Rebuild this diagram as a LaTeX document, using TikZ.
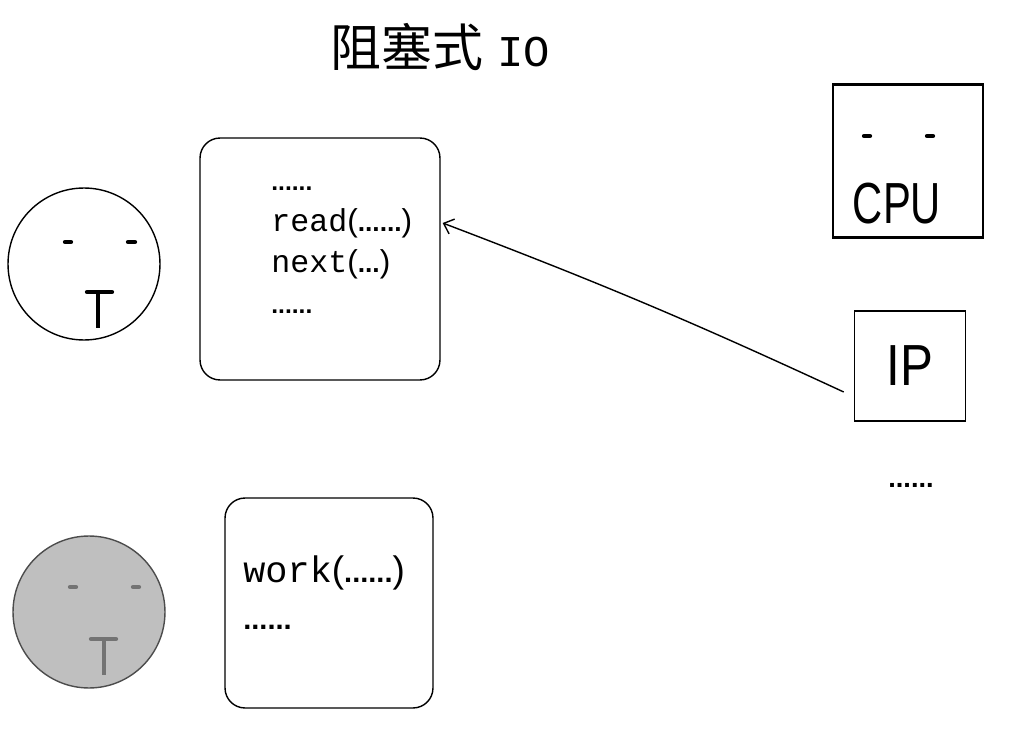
\documentclass[tikz,border=0pt]{standalone}
\usepackage{fontspec}
\setmainfont{Liberation Sans}
\setmonofont{Liberation Mono}
\newfontfamily\cjk{Noto Sans CJK SC}
\usetikzlibrary{arrows.meta}
\newcommand{\dotrow}[2][14]{{\fontsize{#1}{#1}\selectfont\bfseries #2}}
\begin{document}
\begin{tikzpicture}[x=0.02cm,y=-0.02cm,
    face/.style={circle,draw,line width=0.8pt,minimum size=3.04cm},
    codebox/.style={draw,rounded corners=0.4cm,line width=0.8pt},
    chip/.style={draw,font=\fontsize{33}{33}\selectfont},
    feature/.style={line width=2.4pt,line cap=round}]
  \useasboundingbox (0,0) rectangle (1018,750);
  \node (title) at (440,47) {{\cjk\fontsize{29}{29}\selectfont 阻塞式}\hspace{8pt}{\ttfamily\fontsize{25}{25}\selectfont IO}};

  \node[face] (t1) at (84,264) {};
  \draw[feature] (65,242) -- (71,242) (128,242) -- (135,242);
  \draw[feature] (87,292) -- (112,292);
  \draw[line width=2.3pt] (98,292) -- (98,328);

  \node[face,fill=gray!50,draw=black!70] (t2) at (89,612) {};
  \draw[feature,black!55] (70,587) -- (76,587) (133,587) -- (139,587);
  \draw[feature,black!55] (91,639) -- (116,639);
  \draw[line width=2.3pt,black!55] (104,639) -- (104,675);

  \node[codebox,minimum width=4.8cm,minimum height=4.84cm] (box1) at (320,259) {};
  \node[anchor=base west,align=left,inner sep=0pt,font=\fontsize{18}{23.3}\selectfont] (code1) at (271,313)
    {\dotrow{......}\\\texttt{read}(\dotrow[15]{......})\\\texttt{next}(\dotrow[15]{...})\\\dotrow{......}};

  \node[codebox,minimum width=4.16cm,minimum height=4.2cm] (box2) at (329,603) {};
  \node[anchor=base west,align=left,inner sep=0pt,font=\fontsize{21}{26.6}\selectfont] (code2) at (243,629)
    {\texttt{work}(\dotrow[16.5]{......})\\\dotrow[16.5]{......}};

  \node[chip,line width=1.6pt,minimum width=3cm,minimum height=3.06cm] (cpu) at (908,161) {};
  \node[font=\fontsize{33}{33}\selectfont] (cpulabel) at (897,204) {\scalebox{0.72}[1]{CPU}};
  \draw[feature] (864,136) -- (870,136) (927,136) -- (933,136);

  \node[chip,line width=0.9pt,minimum width=2.22cm,minimum height=2.2cm] (ip) at (910,366) {\scalebox{0.85}[1]{IP}};
  \node (more) at (911,485) {\dotrow[15.5]{......}};

  \draw[line width=0.8pt,-{Straight Barb[length=5pt,width=9pt]}] ([shift={(-10,26)}]ip.west) to[bend right=2] ([shift={(2,-36)}]box1.east);
\end{tikzpicture}
\end{document}
